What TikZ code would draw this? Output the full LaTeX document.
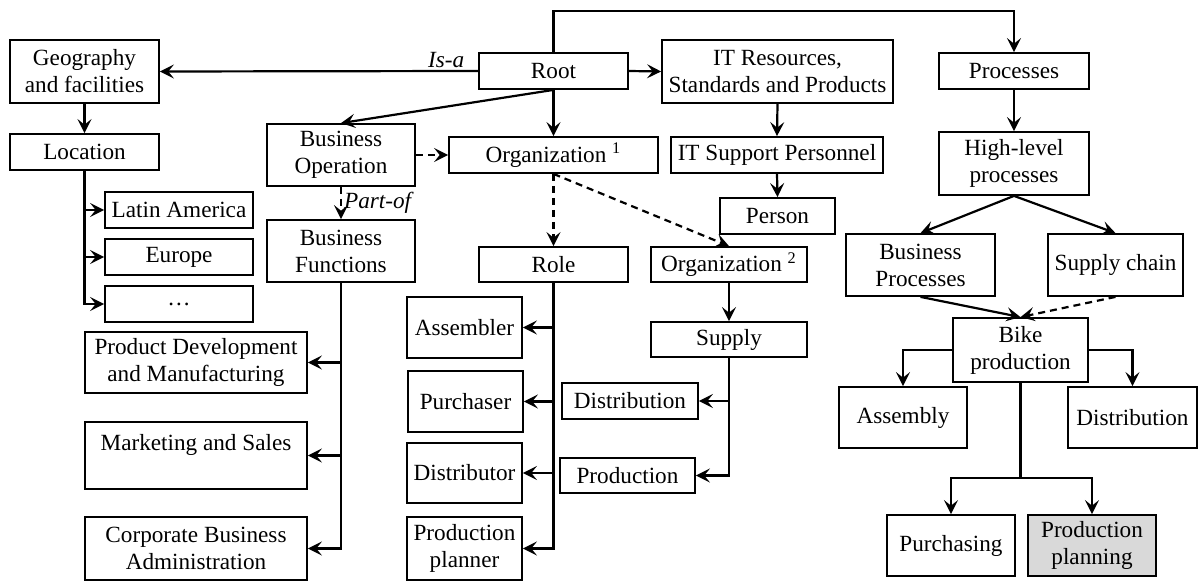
\documentclass[tikz,border=0pt]{standalone}
\usepackage{fontspec}
\setmainfont{Liberation Serif}
\newfontfamily\timesfont{Liberation Serif}
\usetikzlibrary{arrows.meta}

\tikzset{
  box/.style={draw, line width=0.9pt, align=center, inner sep=1pt, font=\timesfont\fontsize{11.6}{13.5}\selectfont},
  conn/.style={line width=1.1pt, -{Stealth[length=7pt,width=7pt,inset=2.8pt]}},
  dconn/.style={conn, dash pattern=on 3.5pt off 2.5pt},
  rel/.style={font=\timesfont\fontsize{11.6}{13.5}\selectfont\itshape, inner sep=1pt},
}

\begin{document}
\begin{tikzpicture}[x=0.5pt, y=-0.5pt]
	\useasboundingbox (0,0) rectangle (1200,588);
	% geography
	\node[box, minimum width=74.5pt, minimum height=31.5pt] (geo) at (84.5,71.5) {Geography\\and facilities};
	\node[box, minimum width=74.5pt, minimum height=18pt] (loc) at (84.5,152) {Location};
	\node[box, minimum width=74pt, minimum height=18pt] (latam) at (179,210) {Latin America};
	\node[box, minimum width=74pt, minimum height=18pt] (europe) at (179,257) {Europe};
	\node[box, minimum width=74pt, minimum height=18pt] (etc) at (179,304) {\ldots};
	% root and top row
	\node[box, minimum width=74.5pt, minimum height=18pt] (root) at (553.5,71) {Root};
	\node[box, minimum width=115.5pt, minimum height=31.5pt] (itres) at (777.5,71.5) {IT Resources,\\Standards and Products};
	\node[box, minimum width=75pt, minimum height=18pt] (proc) at (1014,71) {Processes};
	\node[box, minimum width=75pt, minimum height=31.5pt] (hlp) at (1014,163.5) {High-level\\processes};
	\coordinate (top) at (800,11);
	% business
	\node[box, minimum width=74pt, minimum height=31pt] (bop) at (341,155) {Business\\Operation};
	\node[box, minimum width=74pt, minimum height=31pt] (bfun) at (341,251) {Business\\Functions};
	\node[box, minimum width=111pt, minimum height=30.5pt] (proddev) at (196,362.5) {Product Development\\and Manufacturing};
	\node[box, minimum width=111pt, minimum height=33.5pt] (mkt) at (196,455.5) {Marketing and Sales\\ \mbox{}};
	\node[box, minimum width=111pt, minimum height=31.5pt] (corp) at (196,548.5) {Corporate Business\\Administration};
	% organization
	\node[box, minimum width=104.5pt, minimum height=18pt] (orga) at (553.5,155) {Organization \textsuperscript{1}};
	\node[box, minimum width=74.5pt, minimum height=17.5pt] (role) at (553.5,264.5) {Role};
	\node[box, minimum width=57.5pt, minimum height=30.5pt] (assembler) at (464.5,327.5) {Assembler};
	\node[box, minimum width=57.5pt, minimum height=30.5pt] (purchaser) at (465.5,401.5) {Purchaser};
	\node[box, minimum width=57.5pt, minimum height=30pt] (distributor) at (464.5,473) {Distributor};
	\node[box, minimum width=57.5pt, minimum height=31.5pt] (planner) at (464.5,548.5) {Production\\planner};
	\node[box, minimum width=78pt, minimum height=17.5pt] (orgb) at (729,264.5) {Organization \textsuperscript{2}};
	\node[box, minimum width=78pt, minimum height=17.5pt] (supply) at (729,339.5) {Supply};
	\node[box, minimum width=68pt, minimum height=18pt] (distm) at (630,401) {Distribution};
	\node[box, minimum width=67.5pt, minimum height=17.5pt] (prodm) at (627.5,475.5) {Production};
	% IT
	\node[box, minimum width=106pt, minimum height=18pt] (itsp) at (777,155) {IT Support Personnel};
	\node[box, minimum width=57.5pt, minimum height=18pt] (person) at (777.5,216) {Person};
	% processes
	\node[box, minimum width=74.5pt, minimum height=31pt] (bproc) at (920.5,265) {Business\\Processes};
	\node[box, minimum width=67.5pt, minimum height=31pt] (schain) at (1115.5,265) {Supply chain};
	\node[box, minimum width=67.5pt, minimum height=32pt] (bike) at (1020.5,350) {Bike\\production};
	\node[box, minimum width=64pt, minimum height=30.5pt] (assembly) at (903,417.5) {Assembly};
	\node[box, minimum width=64.5pt, minimum height=30.5pt] (distr) at (1132.5,417.5) {Distribution};
	\node[box, minimum width=64pt, minimum height=30.5pt] (purch) at (951,545.5) {Purchasing};
	\node[box, minimum width=64pt, minimum height=30.5pt, fill=gray!30] (pplan) at (1092,545.5) {Production\\planning};
	\coordinate (fork) at (1020.5,478);

	% connectors
	\draw[conn] (root.west) -- node[rel, pos=0.1, above]{Is-a} (geo.east);
	\draw[conn] (root.east) -- (itres.west);
	\draw[conn] (root.north) |- (top) -| (proc.north);
	\draw[conn] (root.south) -- (bop.north);
	\draw[conn] (root.south) -- (orga.north);
	\draw[conn] (geo.south) -- (loc.north);
	\draw[conn] (loc.south) |- (latam.west);
	\draw[conn] (loc.south) |- (europe.west);
	\draw[conn] (loc.south) |- (etc.west);
	\draw[dconn] (bop.east) -- (orga.west);
	\draw[dconn] (bop.south) -- node[rel, right]{Part-of} (bfun.north);
	\draw[conn] (bfun.south) |- (proddev.east);
	\draw[conn] (bfun.south) |- (mkt.east);
	\draw[conn] (bfun.south) |- (corp.east);
	\draw[dconn] (orga.south) -- (role.north);
	\draw[dconn] (orga.south) -- (orgb.north);
	\draw[conn] (role.south) |- (assembler.east);
	\draw[conn] (role.south) |- (purchaser.east);
	\draw[conn] (role.south) |- (distributor.east);
	\draw[conn] (role.south) |- (planner.east);
	\draw[conn] (orgb.south) -- (supply.north);
	\draw[conn] (supply.south) |- (distm.east);
	\draw[conn] (supply.south) |- (prodm.east);
	\draw[conn] (itres.south) -- (itsp.north);
	\draw[conn] (itsp.south) -- (person.north);
	\draw[conn] (proc.south) -- (hlp.north);
	\draw[conn] (hlp.south) -- (bproc.north);
	\draw[conn] (hlp.south) -- (schain.north);
	\draw[conn] (bproc.south) -- (bike.north);
	\draw[dconn] (schain.south) -- (bike.north);
	\draw[conn] (bike.west) -| (assembly.north);
	\draw[conn] (bike.east) -| (distr.north);
	\draw[conn] (bike.south) -- (fork) -| (purch.north);
	\draw[conn] (fork) -| (pplan.north);
\end{tikzpicture}
\end{document}
